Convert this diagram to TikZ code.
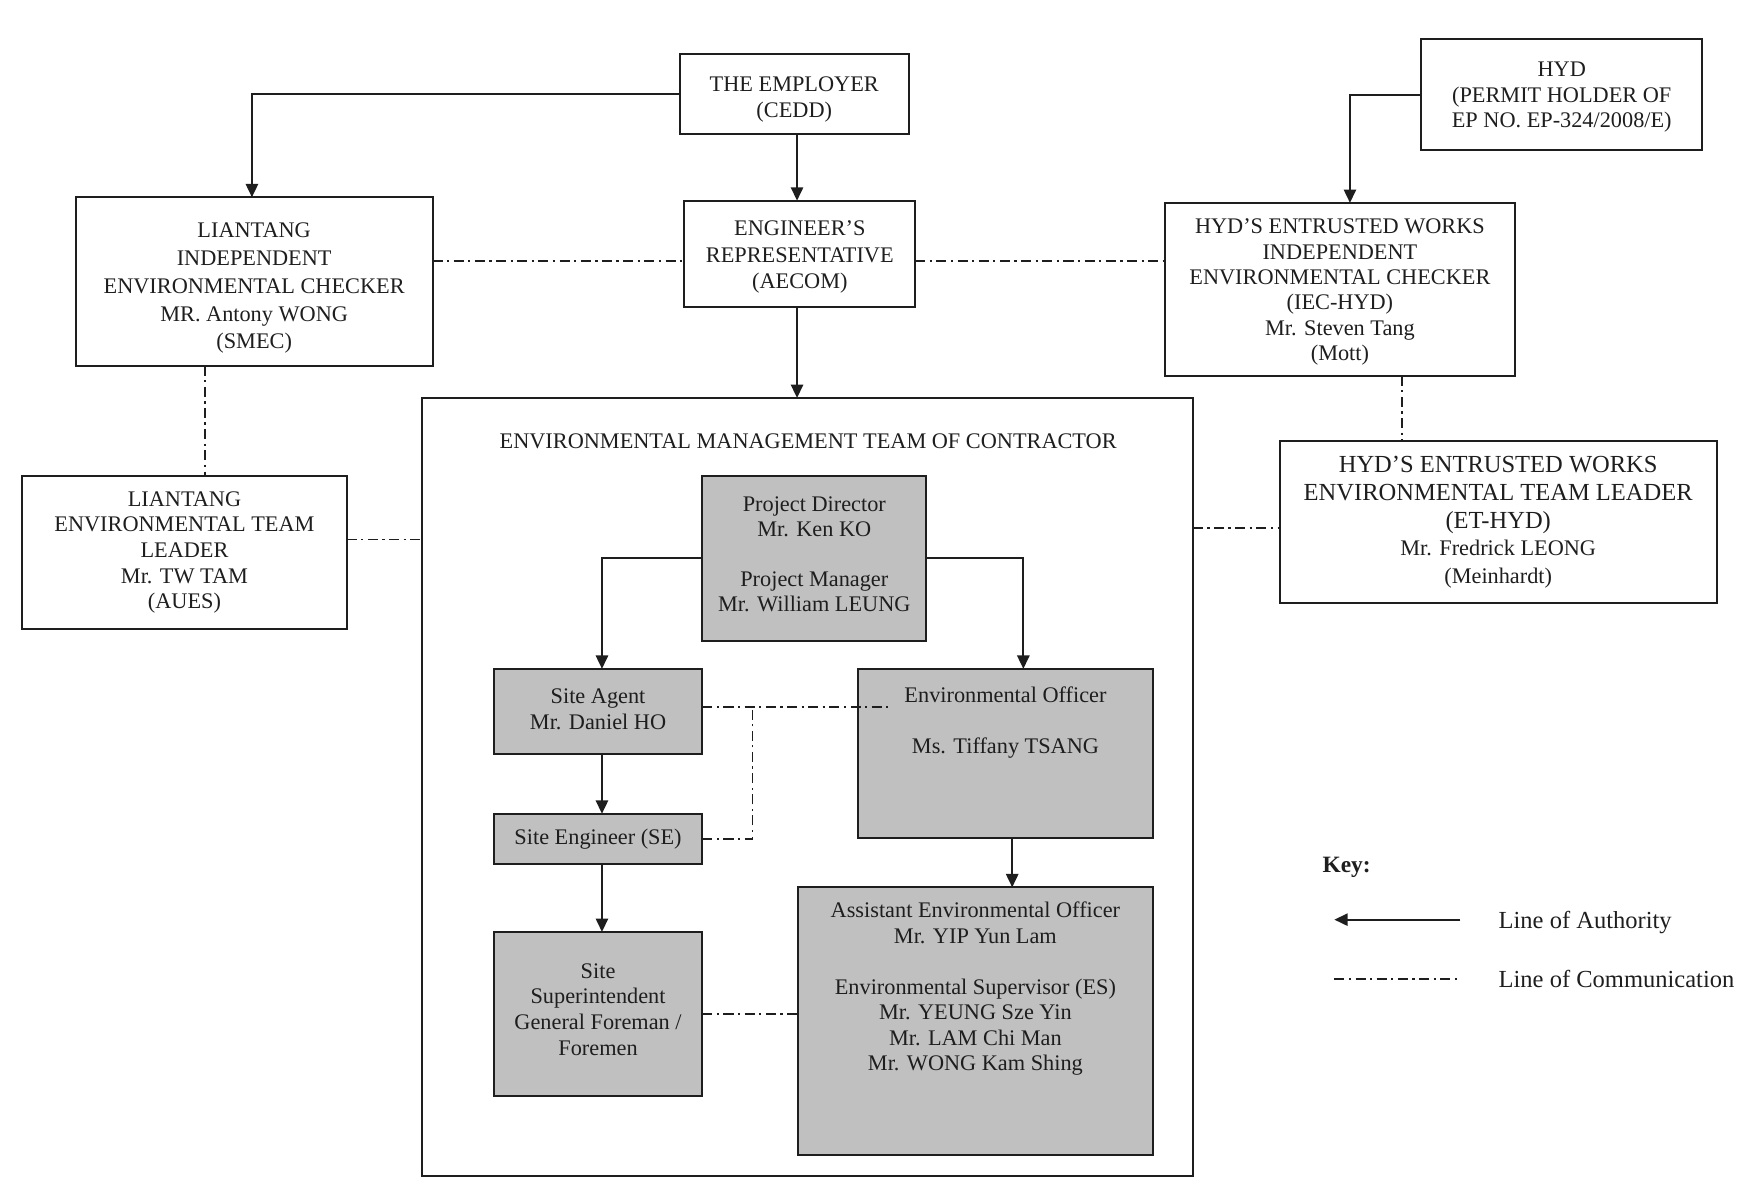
\documentclass[tikz,border=0pt]{standalone}
\usepackage{fontspec}
\setmainfont{Liberation Serif}
\usetikzlibrary{arrows.meta}
\newcommand\fs[2]{\fontsize{#1}{#2}\selectfont}
\newcommand\tp[1]{\rule{0pt}{\dimexpr 6.7pt+#1pt\relax}}
\definecolor{boxgray}{RGB}{192,192,192}
\definecolor{ink}{RGB}{30,30,30}
\tikzset{
  box/.style={draw=ink, line width=0.9pt, inner sep=0pt, outer sep=0pt, align=center, text=ink, font=\fs{10}{11.5}},
  gbox/.style={box, fill=boxgray},
  sz/.style 2 args={minimum width=#1pt, minimum height=#2pt},
  up/.style={execute at end node={\rule[-#1pt]{0pt}{0pt}}},
  txt/.style={inner sep=0pt, align=center, text=ink, font=\fs{10}{11.5}},
  auth/.style={draw=ink, line width=0.9pt, -{Triangle[length=6pt,width=5.5pt]}},
  comm/.style={draw=ink, line width=0.8pt, dash pattern=on 4.5pt off 2pt on 1pt off 2pt},
}
\begin{document}
\begin{tikzpicture}[x=0.5pt, y=-0.5pt]
\useasboundingbox (0,0) rectangle (1560,1059);

% top row
\node[box, sz={102.5}{36}] (emp) at (712.5,84) {\tp{5}THE EMPLOYER\\(CEDD)};
\node[box, sz={126}{50}, font=\fs{10}{11.25}] (hyd) at (1401,85) {\tp{2}HYD\\(PERMIT HOLDER OF\\EP NO. EP-324/2008/E)};

% second row
\node[box, sz={160}{75.5}, font=\fs{10}{12.5}] (lic) at (228,252.5) {\tp{6}LIANTANG\\INDEPENDENT\\ENVIRONMENTAL CHECKER\\MR. Antony WONG\\(SMEC)};
\node[box, sz={103.5}{47.5}, font=\fs{10}{11.75}] (er) at (717.5,227.5) {\tp{3}ENGINEER’S\\REPRESENTATIVE\\(AECOM)};
\node[box, sz={157}{77.5}, font=\fs{10}{11.4}] (hic) at (1202,259.5) {\tp{2.5}HYD’S ENTRUSTED WORKS\\INDEPENDENT\\ENVIRONMENTAL CHECKER\\(IEC-HYD)\\Mr. Steven Tang\\(Mott)};

% third row
\node[box, sz={145.5}{68.5}] (let) at (165.5,495.5) {LIANTANG\\ENVIRONMENTAL TEAM\\LEADER\\Mr. TW TAM\\(AUES)};
\node[box, sz={196}{72.5}, font=\fs{11}{12.5}] (het) at (1344,468.5) {HYD’S ENTRUSTED WORKS\\ENVIRONMENTAL TEAM LEADER\\(ET-HYD)\\\fontsize{10}{12.5}\selectfont Mr. Fredrick LEONG\\\fontsize{10}{12.5}\selectfont (Meinhardt)};

% contractor team
\node[box, sz={345.5}{349}] (cont) at (724.5,706) {};
\node[txt] (ttl) at (725,396) {ENVIRONMENTAL MANAGEMENT TEAM OF CONTRACTOR};

\node[gbox, sz={100.5}{74}, up=4, font=\fs{10}{11.25}] (pd) at (730.5,501) {Project Director\\Mr. Ken KO\\[11.25pt]Project Manager\\Mr. William LEUNG};
\node[gbox, sz={93.5}{38}, up=2] (sa) at (536.5,638) {Site Agent\\Mr. Daniel HO};
\node[gbox, sz={132}{76}] (eo) at (902,676) {};
\node[txt, anchor=north] (eot) at (902,616) {Environmental Officer\\[11.25pt]Ms. Tiffany TSANG};
\node[gbox, sz={93.5}{22.5}] (se) at (536.5,752.5) {Site Engineer (SE)};
\node[gbox, sz={93.5}{73.5}, up=4] (ss) at (536.5,909.5) {Site\\Superintendent\\General Foreman /\\Foremen};
\node[gbox, sz={159}{120}] (aeo) at (875,916) {};
\node[txt, anchor=north, font=\fs{10}{11.4}] (aeot) at (875,809) {Assistant Environmental Officer\\Mr. YIP Yun Lam\\[11.4pt]Environmental Supervisor (ES)\\Mr. YEUNG Sze Yin\\Mr. LAM Chi Man\\Mr. WONG Kam Shing};

% helper coordinates
\coordinate (r1) at (0,234);
\coordinate (r2) at (0,484);
\coordinate (r3) at (0,474);
\coordinate (r4) at (0,634);
\coordinate (v1) at (184,0);
\coordinate (v2) at (1258,0);
\coordinate (v3) at (918,0);
\coordinate (v4) at (908,0);
\coordinate (v5) at (1211,0);
\coordinate (v6) at (540,0);
\coordinate (v7) at (226,0);
\coordinate (v8) at (715,0);
\coordinate (j) at (675,634);
\coordinate (eoin) at (800,634);

% lines of authority
\draw[auth] (emp.west) -| (v7 |- lic.north);
\draw[auth] (v8 |- emp.south) -- (v8 |- er.north);
\draw[auth] (hyd.west) -| (v5 |- hic.north);
\draw[auth] (v8 |- er.south) -- (v8 |- cont.north);
\draw[auth] (pd.west) -| (v6 |- sa.north);
\draw[auth] (pd.east) -| (v3 |- eo.north);
\draw[auth] (v6 |- sa.south) -- (v6 |- se.north);
\draw[auth] (v6 |- se.south) -- (v6 |- ss.north);
\draw[auth] (v4 |- eo.south) -- (v4 |- aeo.north);

% lines of communication
\draw[comm] (lic.east |- r1) -- (er.west |- r1);
\draw[comm] (er.east |- r1) -- (hic.west |- r1);
\draw[comm] (v1 |- lic.south) -- (v1 |- let.north);
\draw[comm] (v2 |- hic.south) -- (v2 |- het.north);
\draw[comm] (let.east |- r2) -- (cont.west |- r2);
\draw[comm] (cont.east |- r3) -- (het.west |- r3);
\draw[comm] (sa.east |- r4) -- (eoin);
\draw[comm] (se.east) -| (j);
\draw[comm] (ss.east) -- (ss.east -| aeo.west);

% key
\node[txt, anchor=base west, font=\fs{10.5}{12}\bfseries] (key) at (1186,783) {Key:};
\coordinate (ka1) at (1310,825);
\coordinate (ka2) at (1197,825);
\coordinate (kc1) at (1197,878);
\coordinate (kc2) at (1310,878);
\draw[auth] (ka1) -- (ka2);
\draw[comm] (kc1) -- (kc2);
\node[txt, anchor=west, font=\fs{11}{13}] (kla) at (1344,828) {Line of Authority};
\node[txt, anchor=west, font=\fs{11}{13}] (klc) at (1344,878) {Line of Communication};
\end{tikzpicture}
\end{document}
